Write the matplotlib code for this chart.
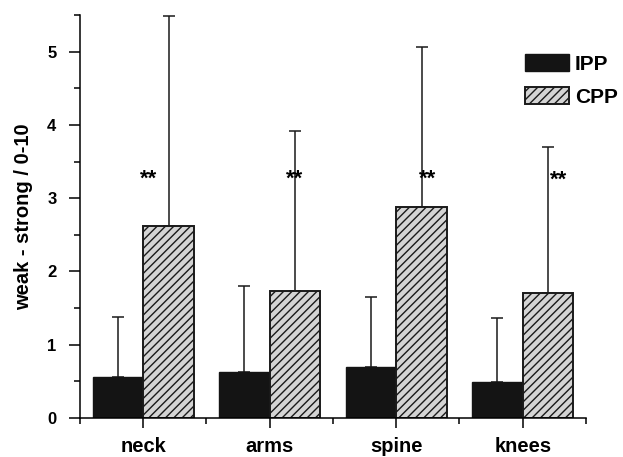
import matplotlib.pyplot as plt
import numpy as np
from matplotlib.ticker import MultipleLocator

plt.rcParams['font.family'] = ['Liberation Sans', 'DejaVu Sans']
plt.rcParams['font.weight'] = 'bold'
plt.rcParams['hatch.linewidth'] = 1.0

# data
categories = ['neck', 'arms', 'spine', 'knees']
ipp_mean = [0.56, 0.63, 0.69, 0.49]
ipp_upper = [1.38, 1.80, 1.65, 1.36]
cpp_mean = [2.62, 1.73, 2.88, 1.71]
cpp_upper = [5.49, 3.92, 5.06, 3.70]
star_x = [0.54, 1.70, 2.75, 3.78]
star_y = [3.26, 3.26, 3.26, 3.24]

x = np.arange(len(categories)) + 0.5
w = 0.40
ipp_err = np.array(ipp_upper) - np.array(ipp_mean)
cpp_err = np.array(cpp_upper) - np.array(cpp_mean)

fig = plt.figure(figsize=(6.23, 4.57), dpi=100)
ax = fig.add_axes([0.1284, 0.0853, 0.8122, 0.8819])

ax.bar(x - w / 2, ipp_mean, w, color='#141414', edgecolor='#141414', linewidth=1, label='IPP', zorder=2)
ax.bar(x + w / 2, cpp_mean, w, color='#d4d4d4', edgecolor='#1a1a1a', linewidth=1.4,
       hatch='////', label='CPP', zorder=2)
ax.errorbar(x - w / 2, ipp_mean, yerr=[np.zeros(4), ipp_err], fmt='none', ecolor='#1a1a1a',
            elinewidth=1.1, capsize=4.5, capthick=1.1, zorder=1)
ax.errorbar(x + w / 2, cpp_mean, yerr=[np.zeros(4), cpp_err], fmt='none', ecolor='#1a1a1a',
            elinewidth=1.1, capsize=4.5, capthick=1.1, zorder=1)

for sx, sy in zip(star_x, star_y):
    ax.text(sx, sy, '**', ha='center', va='center', fontsize=16, fontweight='bold')

ax.set_xlim(0, 4)
ax.set_ylim(0, 5.5)
ax.spines['top'].set_visible(False)
ax.spines['right'].set_visible(False)
ax.spines['left'].set_linewidth(1.1)
ax.spines['bottom'].set_linewidth(1.1)

ax.set_xticks(x)
ax.set_xticklabels(categories, fontsize=14.5, fontweight='bold')
ax.set_xticks(np.arange(0, 5), minor=True)
ax.tick_params(axis='x', which='major', length=7, pad=7, width=1.1)
ax.tick_params(axis='x', which='minor', length=4, width=1.1)

ax.yaxis.set_major_locator(MultipleLocator(1))
ax.yaxis.set_minor_locator(MultipleLocator(0.5))
ax.tick_params(axis='y', which='major', length=8, width=1.1, labelsize=12, pad=9)
ax.tick_params(axis='y', which='minor', length=4, width=1.1)
for lab in ax.get_yticklabels():
    lab.set_fontweight('bold')

ax.set_ylabel('weak - strong / 0-10', fontsize=14.5, fontweight='bold', labelpad=10)

ax.legend(loc='upper left', bbox_to_anchor=(0.879, 0.903), frameon=False, fontsize=15,
          borderpad=0, borderaxespad=0,
          handlelength=2.1, handleheight=0.85, handletextpad=0.3, labelspacing=0.65)

fig.savefig('out.png', dpi=100)
